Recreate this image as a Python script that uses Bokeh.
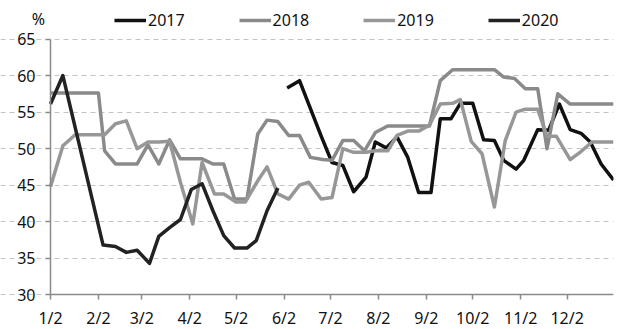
from bokeh.plotting import figure
from bokeh.models import FixedTicker, Legend, LegendItem, Label, Range1d
from bokeh.embed import file_html
from bokeh.resources import INLINE

# x values: days after 2 January; y values: percent
tick_days = [0, 31, 59, 90, 120, 151, 181, 212, 243, 273, 304, 334]
tick_labels = ["1/2", "2/2", "3/2", "4/2", "5/2", "6/2", "7/2", "8/2", "9/2", "10/2", "11/2", "12/2"]
y_ticks = [30, 35, 40, 45, 50, 55, 60, 65]

x_2017 = [153, 161, 168, 175, 182, 189, 196, 204, 210, 217, 224, 231, 238, 246, 252, 259,
          265, 273, 280, 287, 293, 301, 306, 315, 322, 329, 336, 343, 349, 356, 364]
v_2017 = [58.3, 59.3, 55.5, 51.7, 48.1, 47.7, 44.1, 46.1, 50.9, 50.1, 51.6, 48.8, 44.0, 44.0, 54.1, 54.1,
          56.2, 56.2, 51.2, 51.1, 48.4, 47.2, 48.4, 52.6, 52.5, 56.1, 52.6, 52.1, 50.9, 47.9, 45.7]

x_2018 = [0, 7, 14, 21, 28, 31, 35, 42, 49, 56, 63, 70, 77, 84, 91, 98, 105, 112,
          119, 127, 134, 140, 147, 154, 161, 168, 176, 182, 189, 196, 203, 210, 218, 224,
          231, 238, 245, 252, 260, 265, 272, 279, 287, 293, 300, 307, 315, 321, 328, 336,
          343, 350, 357, 364]
v_2018 = [57.6, 57.6, 57.6, 57.6, 57.6, 57.6, 49.7, 47.9, 47.9, 47.9, 50.5, 47.9, 51.2, 48.6, 48.6, 48.6, 47.9, 47.9,
          43.1, 43.1, 52.0, 53.9, 53.7, 51.8, 51.8, 48.8, 48.5, 48.4, 51.1, 51.1, 49.7, 52.2, 53.1, 53.1,
          53.1, 53.1, 53.1, 59.3, 60.8, 60.8, 60.8, 60.8, 60.8, 59.8, 59.6, 58.2, 58.2, 50.0, 57.5, 56.1,
          56.1, 56.1, 56.1, 56.1]

x_2019 = [0, 8, 16, 23, 29, 35, 42, 49, 56, 63, 70, 77, 84, 92, 98, 106, 112, 120,
          126, 134, 140, 147, 154, 161, 167, 175, 182, 189, 196, 204, 210, 218, 224, 231,
          238, 245, 252, 260, 265, 272, 279, 287, 294, 301, 307, 315, 321, 327, 336, 343,
          350, 357, 364]
v_2019 = [44.8, 50.4, 51.9, 51.9, 51.9, 51.9, 53.4, 53.8, 50.0, 50.9, 50.9, 51.0, 45.4, 39.7, 48.1, 43.8, 43.8, 42.7,
          42.7, 45.6, 47.5, 43.8, 43.1, 45.0, 45.4, 43.1, 43.3, 50.0, 49.5, 49.5, 49.7, 49.7, 51.8, 52.4,
          52.4, 53.2, 56.1, 56.2, 56.7, 51.0, 49.3, 42.0, 51.1, 55.0, 55.4, 55.4, 51.7, 51.7, 48.5, 49.6,
          50.9, 50.9, 50.9]

x_2020 = [0, 8, 34, 42, 49, 56, 64, 70, 77, 84, 91, 98, 105, 112, 119, 127, 133, 140, 147]
v_2020 = [56.1, 60.0, 36.8, 36.6, 35.8, 36.1, 34.3, 38.0, 39.2, 40.3, 44.4, 45.2, 41.5, 38.1, 36.4, 36.4, 37.4, 41.5, 44.6]

FONT = "Noto Sans"

# The frame covers the whole canvas except a 15 px strip on the right; both axes are
# pinned (y axis at x=0 -> px 50, x axis at y=30 -> px 294) so that their labels,
# the legend and the unit label are all drawn inside the frame.
X_START, X_END = -32.33, 364
Y_START, Y_END = 25.25, 70.27

p = figure(width=628, height=329, output_backend="svg", toolbar_location=None,
           x_range=Range1d(X_START, X_END), y_range=Range1d(Y_START, Y_END),
           min_border_left=0, min_border_right=15, min_border_top=0, min_border_bottom=0)
p.outline_line_color = None
p.background_fill_color = "white"
p.border_fill_color = "white"

p.xgrid.visible = False
p.ygrid.grid_line_color = "#c4c4c4"
p.ygrid.grid_line_dash = "5 4"
p.ygrid.grid_line_width = 1.2
p.ygrid.bounds = (0, X_END)

p.yaxis.ticker = FixedTicker(ticks=y_ticks)
p.yaxis.bounds = (y_ticks[0], y_ticks[-1])
p.yaxis.fixed_location = 0
p.xaxis.ticker = FixedTicker(ticks=tick_days)
p.xaxis.bounds = (0, X_END)
p.xaxis.fixed_location = y_ticks[0]
p.xaxis.major_label_overrides = {d: l for d, l in zip(tick_days, tick_labels)}
for ax in (p.xaxis, p.yaxis):
    ax.axis_line_color = "#8a8a8a"
    ax.axis_line_width = 1.5
    ax.major_tick_line_color = "#8a8a8a"
    ax.major_tick_line_width = 1.5
    ax.major_tick_out = 5
    ax.major_tick_in = 0
    ax.minor_tick_out = 0
    ax.minor_tick_in = 0
    ax.major_label_text_font = FONT
    ax.major_label_text_font_size = "16px"
    ax.major_label_text_color = "#111111"
p.yaxis.major_label_standoff = 10
p.xaxis.major_label_standoff = 7

lw = 3.5
r17 = p.line(x_2017, v_2017, line_color="#111111", line_width=lw, line_join="round")
r18 = p.line(x_2018, v_2018, line_color="#8a8a8a", line_width=lw, line_join="round")
r19 = p.line(x_2019, v_2019, line_color="#979797", line_width=lw, line_join="round")
r20 = p.line(x_2020, v_2020, line_color="#222222", line_width=lw, line_join="round")

legend = Legend(items=[LegendItem(label="2017", renderers=[r17]),
                       LegendItem(label="2018", renderers=[r18]),
                       LegendItem(label="2019", renderers=[r19]),
                       LegendItem(label="2020", renderers=[r20])],
                orientation="horizontal", location=(114, 298), spacing=54,
                glyph_width=32, glyph_height=16, label_height=16, label_standoff=2,
                padding=0, margin=0, border_line_color=None, background_fill_alpha=0,
                label_text_font=FONT, label_text_font_size="16px", label_text_color="#111111")
p.add_layout(legend)

p.add_layout(Label(x=-7.8, y=67.7, text="%", text_align="center", text_baseline="middle",
                   text_font=FONT, text_font_size="16px", text_color="#111111"))

open("out.html", "w").write(file_html(p, INLINE))
